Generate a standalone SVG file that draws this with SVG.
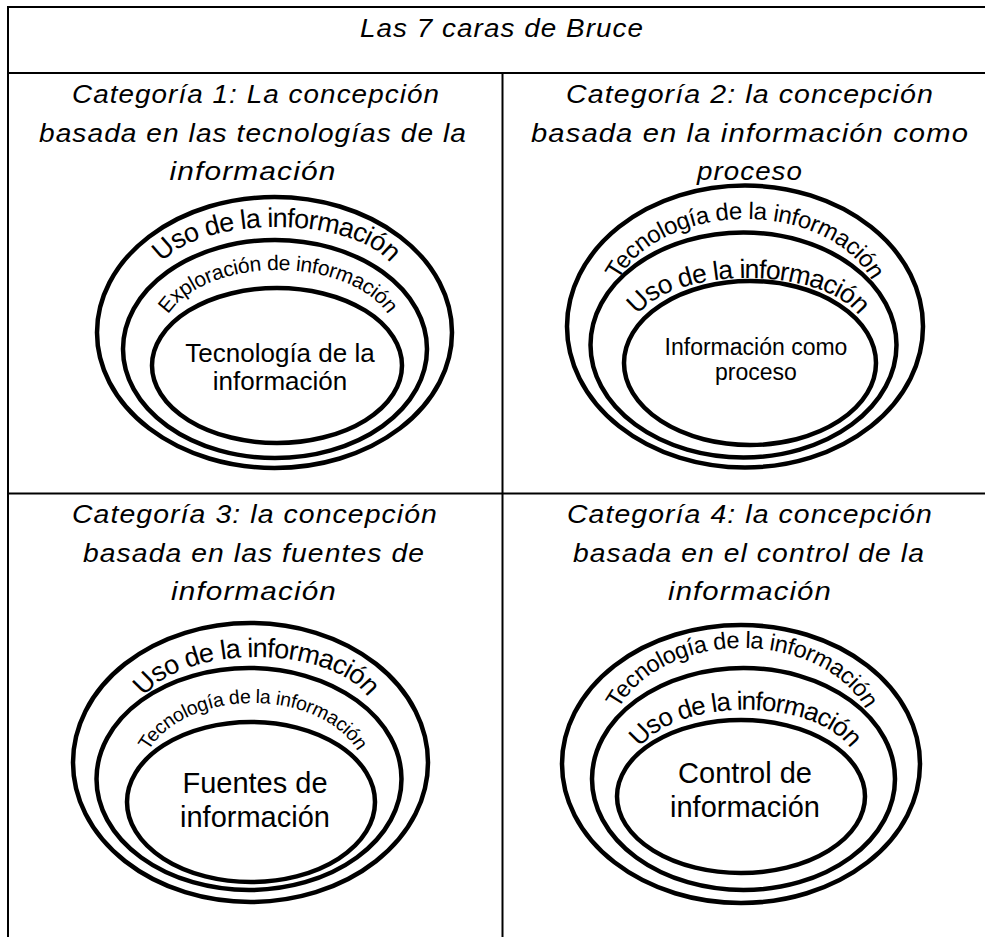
<svg xmlns="http://www.w3.org/2000/svg" xmlns:xlink="http://www.w3.org/1999/xlink" width="985" height="937" viewBox="0 0 985 937">
<style>
.grid{stroke:#000;stroke-width:2;fill:none}
.ring{fill:none;stroke:#000;stroke-width:4.5}
.hd{font-family:"Liberation Sans",Arial,sans-serif;font-style:italic;font-size:26px;letter-spacing:1px;fill:#000;text-anchor:middle}
.lbl{font-family:"Liberation Sans",Arial,sans-serif;fill:#000;text-anchor:middle}
.arc{font-family:"Liberation Sans",Arial,sans-serif;fill:#000}
</style>
<defs>
<path id="p1o" d="M156,279.5 A120,52.5 0 0 1 396,279.5"/>
<path id="p1m" d="M160,339.5 A118,69.5 0 0 1 396,339.5"/>
<path id="p2o" d="M610,312.7 A135,93.7 0 0 1 880,312.7"/>
<path id="p2m" d="M632,332 A116,54 0 0 1 864,332"/>
<path id="p3o" d="M138,716 A118,59 0 0 1 374,716"/>
<path id="p3m" d="M141,778 A112,75 0 0 1 365,778"/>
<path id="p4o" d="M609,745 A133,97 0 0 1 875,745"/>
<path id="p4m" d="M633,768 A112,58.3 0 0 1 857,768"/>
</defs>
<rect width="985" height="937" fill="#fff"/>
<g id="table">
<path class="grid" d="M8,937 V7 H985 M8,73 H985 M8,493.5 H985 M502.5,73 V937"/>
</g>
<g id="title">
<text class="hd" x="502" y="37" textLength="284" lengthAdjust="spacingAndGlyphs">Las 7 caras de Bruce</text>
</g>
<g id="cat1">
<text class="hd" x="256" y="103" textLength="368" lengthAdjust="spacingAndGlyphs">Categoría 1: La concepción</text>
<text class="hd" x="253" y="142" textLength="428" lengthAdjust="spacingAndGlyphs">basada en las tecnologías de la</text>
<text class="hd" x="253" y="180" textLength="167" lengthAdjust="spacingAndGlyphs">información</text>
<g id="c1-outer"><ellipse class="ring" cx="274.5" cy="332.5" rx="177.5" ry="135.5"/>
<text class="arc" font-size="27" letter-spacing="-0.8"><textPath xlink:href="#p1o" href="#p1o" startOffset="50%" text-anchor="middle">Uso de la información</textPath></text></g>
<g id="c1-middle"><ellipse class="ring" cx="275" cy="349" rx="152" ry="109"/>
<text class="arc" font-size="21" letter-spacing="-0.3"><textPath xlink:href="#p1m" href="#p1m" startOffset="50%" text-anchor="middle">Exploración de información</textPath></text></g>
<g id="c1-inner"><ellipse class="ring" cx="277" cy="365.5" rx="125" ry="77.5"/>
<text class="lbl" font-size="26" x="280" y="362">Tecnología de la</text>
<text class="lbl" font-size="26" x="280" y="390">información</text></g>
</g>
<g id="cat2">
<text class="hd" x="750" y="103" textLength="368" lengthAdjust="spacingAndGlyphs">Categoría 2: la concepción</text>
<text class="hd" x="750" y="142" textLength="438" lengthAdjust="spacingAndGlyphs">basada en la información como</text>
<text class="hd" x="750" y="180" textLength="106" lengthAdjust="spacingAndGlyphs">proceso</text>
<g id="c2-outer"><ellipse class="ring" cx="745" cy="326.5" rx="178" ry="141"/>
<text class="arc" font-size="24" letter-spacing="-0.4"><textPath xlink:href="#p2o" href="#p2o" startOffset="50%" text-anchor="middle">Tecnología de la información</textPath></text></g>
<g id="c2-middle"><ellipse class="ring" cx="743.5" cy="345" rx="153" ry="112.5"/>
<text class="arc" font-size="26.5" letter-spacing="-0.8"><textPath xlink:href="#p2m" href="#p2m" startOffset="50%" text-anchor="middle">Uso de la información</textPath></text></g>
<g id="c2-inner"><ellipse class="ring" cx="750" cy="363" rx="126" ry="82"/>
<text class="lbl" font-size="23" x="756" y="355">Información como</text>
<text class="lbl" font-size="23" x="756" y="380">proceso</text></g>
</g>
<g id="cat3">
<text class="hd" x="255" y="523" textLength="366" lengthAdjust="spacingAndGlyphs">Categoría 3: la concepción</text>
<text class="hd" x="254" y="562" textLength="342" lengthAdjust="spacingAndGlyphs">basada en las fuentes de</text>
<text class="hd" x="254" y="600" textLength="166" lengthAdjust="spacingAndGlyphs">información</text>
<g id="c3-outer"><ellipse class="ring" cx="250.5" cy="762.5" rx="177.5" ry="139.5"/>
<text class="arc" font-size="27" letter-spacing="-0.8"><textPath xlink:href="#p3o" href="#p3o" startOffset="50%" text-anchor="middle">Uso de la información</textPath></text></g>
<g id="c3-middle"><ellipse class="ring" cx="249" cy="779" rx="152.5" ry="111"/>
<text class="arc" font-size="19.5" letter-spacing="-0.3"><textPath xlink:href="#p3m" href="#p3m" startOffset="50%" text-anchor="middle">Tecnología de la información</textPath></text></g>
<g id="c3-inner"><ellipse class="ring" cx="251" cy="802" rx="124" ry="80"/>
<text class="lbl" font-size="29" x="255" y="793">Fuentes de</text>
<text class="lbl" font-size="29" x="255" y="827">información</text></g>
</g>
<g id="cat4">
<text class="hd" x="750" y="523" textLength="366" lengthAdjust="spacingAndGlyphs">Categoría 4: la concepción</text>
<text class="hd" x="749" y="562" textLength="352" lengthAdjust="spacingAndGlyphs">basada en el control de la</text>
<text class="hd" x="750" y="600" textLength="164" lengthAdjust="spacingAndGlyphs">información</text>
<g id="c4-outer"><ellipse class="ring" cx="741" cy="764" rx="179" ry="139"/>
<text class="arc" font-size="23.5" letter-spacing="-0.4"><textPath xlink:href="#p4o" href="#p4o" startOffset="50%" text-anchor="middle">Tecnología de la información</textPath></text></g>
<g id="c4-middle"><ellipse class="ring" cx="743.5" cy="779" rx="151.5" ry="111"/>
<text class="arc" font-size="26" letter-spacing="-1"><textPath xlink:href="#p4m" href="#p4m" startOffset="50%" text-anchor="middle">Uso de la información</textPath></text></g>
<g id="c4-inner"><ellipse class="ring" cx="741" cy="796.5" rx="124" ry="76.5"/>
<text class="lbl" font-size="29" x="745" y="783">Control de</text>
<text class="lbl" font-size="29" x="745" y="817">información</text></g>
</g>
</svg>
